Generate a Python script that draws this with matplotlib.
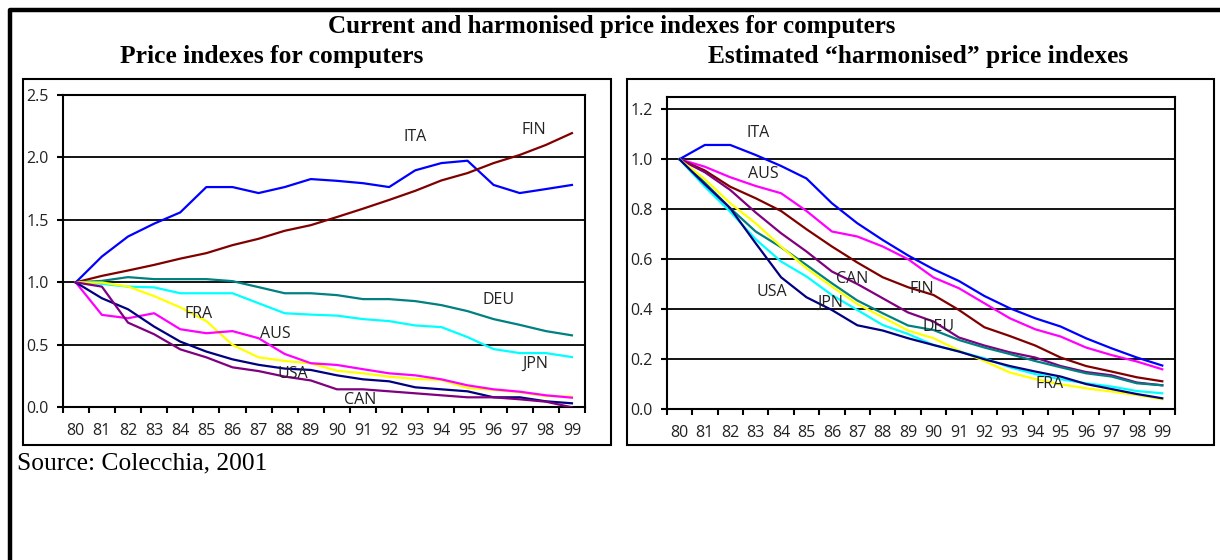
import matplotlib.pyplot as plt
from matplotlib.patches import Rectangle
from matplotlib.lines import Line2D

years = ['80', '81', '82', '83', '84', '85', '86', '87', '88', '89',
         '90', '91', '92', '93', '94', '95', '96', '97', '98', '99']

# current price indexes (left panel)
cur_ita = [1.0, 1.207, 1.367, 1.47, 1.56, 1.763, 1.763, 1.715, 1.763, 1.827,
           1.813, 1.794, 1.763, 1.897, 1.955, 1.974, 1.78, 1.715, 1.747, 1.78]
cur_fin = [1.0, 1.052, 1.095, 1.14, 1.19, 1.234, 1.298, 1.349, 1.413, 1.458,
           1.523, 1.59, 1.66, 1.733, 1.816, 1.875, 1.955, 2.02, 2.10, 2.195]
cur_deu = [1.0, 1.012, 1.042, 1.026, 1.026, 1.026, 1.01, 0.962, 0.913, 0.913,
           0.898, 0.866, 0.866, 0.85, 0.818, 0.77, 0.706, 0.66, 0.61, 0.576]
cur_jpn = [1.0, 0.988, 0.966, 0.96, 0.913, 0.913, 0.913, 0.833, 0.753, 0.742,
           0.734, 0.706, 0.69, 0.655, 0.642, 0.562, 0.466, 0.434, 0.434, 0.402]
cur_fra = [1.0, 0.999, 0.967, 0.89, 0.80, 0.69, 0.50, 0.40, 0.371, 0.352,
           0.293, 0.272, 0.245, 0.227, 0.219, 0.155, 0.139, 0.12, 0.09, 0.085]
cur_aus = [1.0, 0.74, 0.713, 0.753, 0.625, 0.593, 0.61, 0.553, 0.427, 0.353,
           0.339, 0.305, 0.272, 0.256, 0.224, 0.176, 0.144, 0.125, 0.096, 0.077]
cur_usa = [1.0, 0.873, 0.785, 0.646, 0.526, 0.446, 0.384, 0.34, 0.31, 0.299,
           0.256, 0.224, 0.208, 0.16, 0.144, 0.128, 0.08, 0.08, 0.048, 0.032]
cur_can = [1.0, 0.966, 0.678, 0.585, 0.464, 0.40, 0.32, 0.29, 0.246, 0.215,
           0.144, 0.144, 0.128, 0.112, 0.096, 0.08, 0.08, 0.064, 0.045, 0.0]

# harmonised price indexes (right panel)
har_ita = [1.0, 1.057, 1.057, 1.017, 0.973, 0.923, 0.824, 0.744, 0.677, 0.615,
           0.56, 0.513, 0.453, 0.404, 0.364, 0.331, 0.284, 0.244, 0.207, 0.175]
har_aus = [1.0, 0.97, 0.928, 0.893, 0.864, 0.793, 0.711, 0.691, 0.651, 0.60,
           0.527, 0.484, 0.424, 0.364, 0.32, 0.291, 0.247, 0.217, 0.191, 0.16]
har_fin = [1.0, 0.955, 0.89, 0.844, 0.793, 0.72, 0.651, 0.587, 0.528, 0.488,
           0.457, 0.397, 0.328, 0.293, 0.255, 0.207, 0.173, 0.151, 0.128, 0.112]
har_can = [1.0, 0.948, 0.877, 0.787, 0.704, 0.631, 0.551, 0.501, 0.444, 0.387,
           0.351, 0.287, 0.255, 0.228, 0.207, 0.173, 0.149, 0.136, 0.107, 0.096]
har_deu = [1.0, 0.906, 0.804, 0.711, 0.648, 0.577, 0.504, 0.435, 0.384, 0.335,
           0.317, 0.277, 0.247, 0.221, 0.193, 0.168, 0.144, 0.131, 0.104, 0.096]
har_fra = [1.0, 0.92, 0.824, 0.744, 0.651, 0.564, 0.491, 0.421, 0.368, 0.315,
           0.284, 0.235, 0.193, 0.147, 0.121, 0.10, 0.084, 0.071, 0.057, 0.04]
har_jpn = [1.0, 0.89, 0.79, 0.68, 0.591, 0.531, 0.457, 0.397, 0.337, 0.301,
           0.257, 0.231, 0.204, 0.168, 0.141, 0.12, 0.104, 0.091, 0.073, 0.064]
har_usa = [1.0, 0.90, 0.804, 0.664, 0.528, 0.448, 0.397, 0.336, 0.315, 0.284,
           0.257, 0.231, 0.20, 0.173, 0.151, 0.131, 0.101, 0.081, 0.061, 0.044]

colors = {'ITA': '#0000ff', 'FIN': '#800000', 'DEU': '#008080', 'JPN': '#00ffff',
          'FRA': '#ffff00', 'AUS': '#ff00ff', 'USA': '#000080', 'CAN': '#800080'}

left_series = {'ITA': cur_ita, 'FIN': cur_fin, 'DEU': cur_deu, 'JPN': cur_jpn,
               'FRA': cur_fra, 'AUS': cur_aus, 'USA': cur_usa, 'CAN': cur_can}
right_series = {'ITA': har_ita, 'AUS': har_aus, 'FIN': har_fin, 'CAN': har_can,
                'DEU': har_deu, 'FRA': har_fra, 'JPN': har_jpn, 'USA': har_usa}

# label anchors (category index, value)
left_labels = {'ITA': (13.0, 2.16), 'FIN': (17.55, 2.22), 'DEU': (16.2, 0.86),
               'JPN': (17.6, 0.35), 'CAN': (10.9, 0.055), 'FRA': (4.7, 0.75),
               'AUS': (7.65, 0.585), 'USA': (8.3, 0.27)}
right_labels = {'ITA': (3.08, 1.104), 'AUS': (3.3, 0.941), 'CAN': (6.8, 0.522),
                'USA': (3.63, 0.468), 'JPN': (5.93, 0.426), 'FIN': (9.54, 0.481),
                'DEU': (10.2, 0.33), 'FRA': (14.55, 0.10)}

sans = 'Open Sans'
serif = 'Liberation Serif'


def draw_panel(ax, series, labels, ymax, yticks):
    x = list(range(len(years)))
    for name, vals in series.items():
        ax.plot(x, vals, color=colors[name], lw=1.6, zorder=3)
    for name, (lx, ly) in labels.items():
        ax.text(lx, ly, name, ha='center', va='center', fontsize=11.5,
                family=sans, color='#222222', zorder=4)
    ax.set_xlim(-0.5, len(years) - 0.5)
    ax.set_ylim(0, ymax)
    ax.set_yticks(yticks)
    ax.set_yticklabels(['%.1f' % v for v in yticks], family=sans, fontsize=11.5,
                       color='#222222')
    ax.set_xticks(x)
    ax.set_xticklabels(years, family=sans, fontsize=11.5, color='#222222')
    ax.set_xticks([i - 0.5 for i in range(len(years) + 1)], minor=True)
    ax.tick_params(axis='x', which='major', length=0, pad=11)
    ax.tick_params(axis='x', which='minor', length=4, width=1.5, direction='out')
    ax.tick_params(axis='y', length=4, width=1.5, direction='out', pad=6)
    ax.yaxis.grid(True, color='black', lw=1.3)
    ax.set_axisbelow(True)
    for sp in ax.spines.values():
        sp.set_linewidth(1.5)
        sp.set_color('black')


fig = plt.figure(figsize=(12.2, 5.6), dpi=100)
W, H = 1220.0, 560.0

# panel frames
fig.patches.append(Rectangle((23 / W, 1 - 445 / H), 588 / W, 366 / H, transform=fig.transFigure,
                             fill=False, lw=1.5, ec='black'))
fig.patches.append(Rectangle((627 / W, 1 - 445 / H), 587 / W, 366 / H, transform=fig.transFigure,
                             fill=False, lw=1.5, ec='black'))
# outer border (top and left)
fig.lines.append(Line2D([10 / W, 10 / W, 1.0], [0.0, 1 - 10 / H, 1 - 10 / H],
                        transform=fig.transFigure, color='black', lw=3.2))

ax1 = fig.add_axes([62.7 / W, 1 - 407.3 / H, 522.3 / W, 312.3 / H])
draw_panel(ax1, left_series, left_labels, 2.5, [0.0, 0.5, 1.0, 1.5, 2.0, 2.5])

ax2 = fig.add_axes([666.7 / W, 1 - 409.3 / H, 508.3 / W, 312.6 / H])
draw_panel(ax2, right_series, right_labels, 1.25, [0.0, 0.2, 0.4, 0.6, 0.8, 1.0, 1.2])

fig.text(612 / W, 1 - 26.5 / H, 'Current and harmonised price indexes for computers',
         ha='center', va='center', family=serif, weight='bold', fontsize=18)
fig.text(272 / W, 1 - 56.5 / H, 'Price indexes for computers',
         ha='center', va='center', family=serif, weight='bold', fontsize=18.4)
fig.text(918 / W, 1 - 56.5 / H, 'Estimated \u201charmonised\u201d price indexes',
         ha='center', va='center', family=serif, weight='bold', fontsize=18.4)
fig.text(17 / W, 1 - 463 / H, 'Source: Colecchia, 2001',
         ha='left', va='center', family=serif, fontsize=18.4)

fig.savefig('out.png', dpi=100)
